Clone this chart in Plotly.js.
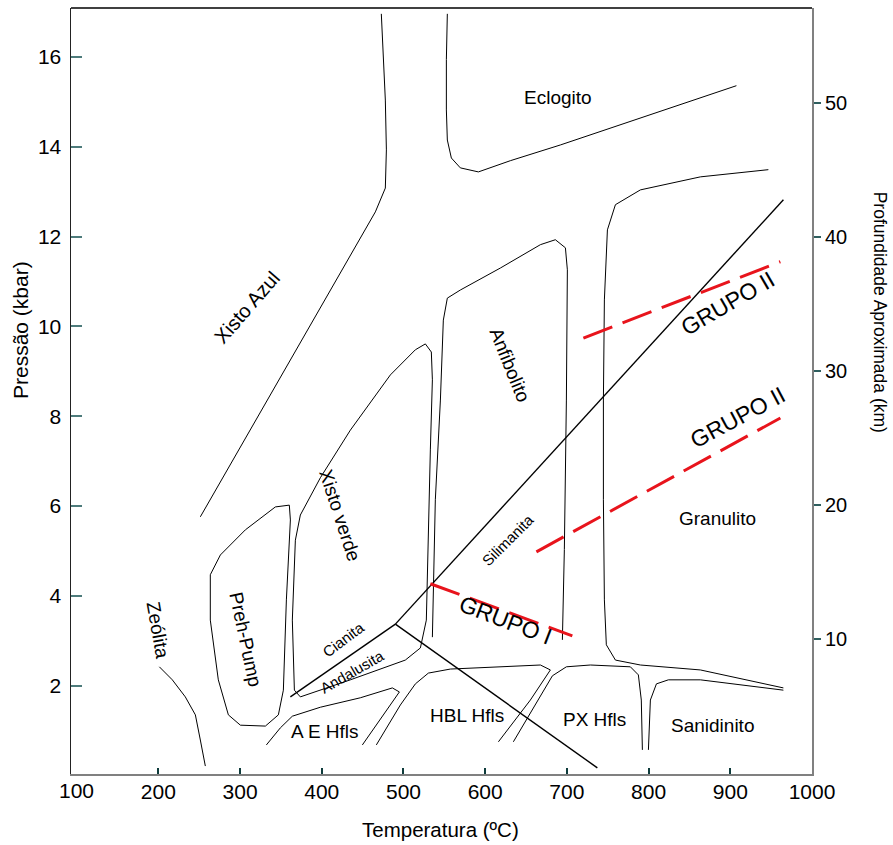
<!DOCTYPE html>
<html><head><meta charset="utf-8">
<script src="https://cdn.plot.ly/plotly-3.0.1.min.js"></script>
<style>body{margin:0;background:#fff}#g{width:893px;height:845px}</style>
</head><body><div id="g"></div>
<script>
// ---- data (T in °C, P in kbar) ----
const blueschistT = [251.4, 300.4, 361.6, 422.8, 465.6, 477.8, 479.1, 477.8, 475.4, 472.9];
const blueschistP = [5.76, 7.32, 9.25, 11.21, 12.55, 13.08, 13.93, 15.04, 16.16, 16.96];
const eclogiteT = [553.7, 552.5, 552.5, 553.7, 558.6, 569.6, 591.7, 630.8, 692.0, 765.5, 838.9, 907.5];
const eclogiteP = [16.96, 15.94, 14.82, 14.15, 13.75, 13.53, 13.44, 13.69, 14.04, 14.49, 14.93, 15.36];
const greenschistT = [373.8, 398.3, 435.0, 484.0, 514.6, 526.8, 534.1, 535.4, 532.9, 530.5, 528.0, 520.7, 502.3, 435.0, 373.8, 366.5, 364.0, 367.7, 373.8];
const greenschistP = [5.80, 6.63, 7.69, 8.92, 9.48, 9.61, 9.43, 8.81, 7.25, 5.03, 3.46, 2.84, 2.57, 2.13, 1.75, 1.90, 3.46, 5.24, 5.80];
const prehPumpT = [360.3, 343.2, 306.5, 275.9, 263.6, 263.6, 273.4, 285.7, 300.4, 331.0, 346.9, 353.0, 356.7, 361.6, 360.3];
const prehPumpP = [6.02, 5.98, 5.47, 4.91, 4.47, 3.46, 2.13, 1.35, 1.12, 1.10, 1.35, 1.90, 3.91, 5.69, 6.02];
const zeoliteT = [201.2, 217.1, 233.0, 245.3, 251.4, 257.5];
const zeoliteP = [2.42, 2.13, 1.75, 1.35, 0.79, 0.21];
const aeHflsT = [332.2, 349.3, 364.0, 398.3, 447.2, 486.4, 495.0, 484.0, 449.7];
const aeHflsP = [0.68, 1.06, 1.32, 1.52, 1.73, 1.95, 1.86, 1.57, 0.68];
const hblHflsT = [466.8, 496.2, 514.6, 530.5, 557.4, 667.6, 679.8, 655.3, 616.2];
const hblHflsP = [0.68, 1.57, 2.04, 2.28, 2.37, 2.46, 2.35, 1.68, 0.75];
const pxHflsT = [634.5, 661.4, 682.3, 699.4, 728.8, 777.7, 787.5, 791.1, 792.4];
const pxHflsP = [0.75, 1.57, 2.22, 2.42, 2.46, 2.42, 2.24, 1.68, 0.57];
const sanidiniteT = [799.8, 802.2, 809.6, 824.2, 863.4, 965.0];
const sanidiniteP = [0.57, 1.68, 2.04, 2.13, 2.13, 1.90];
const granuliteT = [946.6, 863.4, 790.0, 759.4, 749.6, 745.9, 744.7, 744.7, 745.9, 748.3, 759.4, 790.0, 863.4, 965.0];
const granuliteP = [13.49, 13.33, 13.04, 12.71, 12.15, 10.59, 8.36, 6.14, 3.91, 2.91, 2.57, 2.46, 2.35, 1.95];
const amphiboliteT = [535.4, 539.0, 545.2, 548.8, 553.7, 569.6, 618.6, 667.6, 685.9, 698.2, 700.6, 699.4, 696.9, 694.5];
const amphiboliteP = [3.08, 6.14, 8.36, 10.14, 10.63, 10.81, 11.30, 11.82, 11.93, 11.75, 11.26, 8.36, 5.03, 3.02];
// aluminosilicate lines
const kyAndT = [361.6, 490.1];
const kyAndP = [1.75, 3.37];
const kySilT = [490.1, 965.0];
const kySilP = [3.37, 12.82];
const andSilT = [490.1, 737.3];
const andSilP = [3.37, 0.17];
// red dashed group lines
const grupoIT = [532.9, 706.7];
const grupoIP = [4.27, 3.11];
const grupoIIaT = [720.2, 961.3];
const grupoIIaP = [9.74, 11.44];
const grupoIIbT = [662.7, 961.3];
const grupoIIbP = [4.98, 7.96];
// axis ticks
const xTicks = [200, 300, 400, 500, 600, 700, 800, 900, 1000];
const yTicks = [2, 4, 6, 8, 10, 12, 14, 16];
const y2Ticks = [10, 20, 30, 40, 50];

const thin = {color: '#000', width: 1};
const mid = {color: '#000', width: 1.4};
const red = {color: '#e8141c', width: 3, dash: '31px,11px'};
function tr(x, y, line) { return {x: x, y: y, mode: 'lines', line: line, hoverinfo: 'skip', showlegend: false}; }
const traces = [
  tr(blueschistT, blueschistP, thin), tr(eclogiteT, eclogiteP, thin), tr(greenschistT, greenschistP, thin),
  tr(prehPumpT, prehPumpP, thin), tr(zeoliteT, zeoliteP, thin), tr(aeHflsT, aeHflsP, thin),
  tr(hblHflsT, hblHflsP, thin), tr(pxHflsT, pxHflsP, thin), tr(sanidiniteT, sanidiniteP, thin),
  tr(granuliteT, granuliteP, thin), tr(amphiboliteT, amphiboliteP, thin),
  tr(kyAndT, kyAndP, mid), tr(kySilT, kySilP, mid), tr(andSilT, andSilP, mid),
  tr(grupoIT, grupoIP, red), tr(grupoIIaT, grupoIIaP, red), tr(grupoIIbT, grupoIIbP, red),
  {x: [500], y: [20], yaxis: 'y2', mode: 'markers', marker: {opacity: 0}, hoverinfo: 'skip', showlegend: false}
];

const F = 'Liberation Sans, Arial, sans-serif';
function lab(text, x, y, ang, size) {
  return {text: text, x: x, y: y, xref: 'x', yref: 'y', showarrow: false, textangle: ang,
          font: {family: F, size: size || 19, color: '#000'}, xanchor: 'center', yanchor: 'middle'};
}
const annotations = [
  lab('Eclogito', 689.6, 15.09, 0),
  lab('Xisto Azul', 308.9, 10.43, -49, 20),
  lab('Anfibolito', 630.8, 9.14, 68),
  lab('Xisto verde', 422.8, 5.80, 72),
  lab('Preh-Pump', 306.5, 3.02, 78),
  lab('Zeólita', 198.8, 3.24, 80),
  lab('Silimanita', 628.4, 5.25, -45, 15),
  lab('Cianita', 426.4, 3.02, -37, 15),
  lab('Andalusita', 437.5, 2.31, -30, 15),
  lab('GRUPO I', 624.7, 3.46, 21, 23),
  lab('GRUPO II', 897.7, 10.52, -30, 23),
  lab('GRUPO II', 909.9, 7.98, -28, 23),
  lab('Granulito', 884.2, 5.73, 0),
  lab('A E Hfls', 404.4, 0.99, 0),
  lab('HBL Hfls', 578.2, 1.33, 0),
  lab('PX Hfls', 733.7, 1.24, 0),
  lab('Sanidinito', 878.1, 1.12, 0),
  {text: '100', xref: 'paper', yref: 'paper', x: 0.0077, y: -0.0218, showarrow: false,
   font: {family: F, size: 21, color: '#000'}, xanchor: 'center', yanchor: 'middle'},
  {text: 'Temperatura (ºC)', xref: 'paper', yref: 'paper', x: 0.498, y: -0.0731, showarrow: false,
   font: {family: F, size: 20.5, color: '#000'}, xanchor: 'center', yanchor: 'middle'},
  {text: 'Pressão (kbar)', xref: 'paper', yref: 'paper', x: -0.0688, y: 0.5796, showarrow: false, textangle: -90,
   font: {family: F, size: 21, color: '#000'}, xanchor: 'center', yanchor: 'middle'},
  {text: 'Profundidade Aproximada (km)', xref: 'paper', yref: 'paper', x: 1.091, y: 0.603, showarrow: false, textangle: 90,
   font: {family: F, size: 17.5, color: '#000'}, xanchor: 'center', yanchor: 'middle'}
];

const layout = {
  width: 893, height: 845,
  margin: {l: 71, r: 81, t: 8, b: 71},
  paper_bgcolor: '#fff', plot_bgcolor: '#fff',
  showlegend: false,
  font: {family: F, size: 20, color: '#000'},
  xaxis: {range: [93.1, 1000], tickvals: xTicks, ticktext: xTicks.map(String), ticks: 'inside', ticklen: 6, tickwidth: 2,
          tickcolor: '#0e3b3b', showgrid: false, zeroline: false, showline: true, linecolor: '#808080', linewidth: 2,
          tickfont: {family: F, size: 21, color: '#000'}, ticklabelstandoff: -2},
  yaxis: {range: [0.033, 17.09], tickvals: yTicks, ticks: 'inside', ticklen: 11, tickwidth: 2, tickcolor: '#4d7b7b',
          showgrid: false, zeroline: false, showline: true, linecolor: '#222', linewidth: 1.5,
          tickfont: {family: F, size: 21, color: '#000'}, ticklabelstandoff: 4},
  yaxis2: {range: [-0.045, 57.08], overlaying: 'y', side: 'right', tickvals: y2Ticks, ticks: 'outside', ticklen: 7, tickwidth: 2,
           tickcolor: '#2f5f5f', showgrid: false, zeroline: false, showline: true, linecolor: '#808080', linewidth: 2,
           tickfont: {family: F, size: 20, color: '#000'}, ticklabelstandoff: 0},
  shapes: [{type: 'line', xref: 'paper', yref: 'paper', x0: 0, x1: 1, y0: 1, y1: 1, line: {color: '#000', width: 1.5}}],
  annotations: annotations
};
Plotly.newPlot('g', traces, layout, {staticPlot: true});
</script></body></html>
